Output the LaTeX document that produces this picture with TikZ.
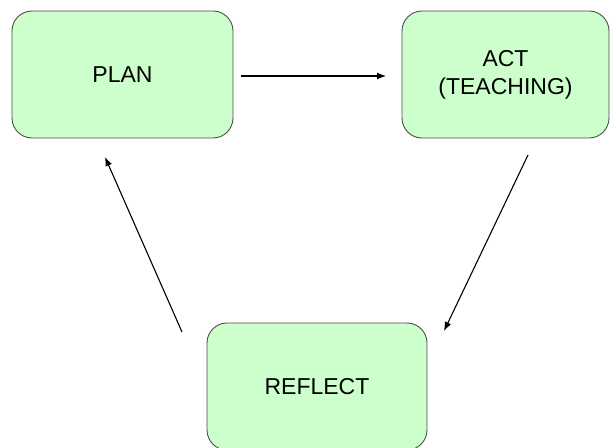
\documentclass[tikz,border=0pt]{standalone}
\usepackage{fontspec}
\setmainfont{Liberation Sans}
\usetikzlibrary{arrows.meta}

\begin{document}
\begin{tikzpicture}[x=1pt, y=-1pt]
\useasboundingbox (0,0) rectangle (610,447);
% coordinates
\coordinate (PlanOut) at (241,76);
\coordinate (ActIn) at (386,76);
\coordinate (ActOut) at (528,155);
\coordinate (ReflectIn) at (444,331);
\coordinate (ReflectOut) at (182,332);
\coordinate (PlanIn) at (105,157);

% boxes
\begin{scope}[every node/.style={draw=black!70, line width=0.9pt, fill=green!20!white, rounded corners=20pt, minimum height=127pt, align=center, font=\fontsize{23}{28}\selectfont}]
\node[minimum width=221pt] (plan) at (122.5,74.5) {PLAN};
\node[minimum width=207pt] (act) at (505.5,74.5) {ACT\\(TEACHING)};
\node[minimum width=220pt] (reflect) at (317,386.5) {REFLECT};
\end{scope}

% arrows
\begin{scope}[line width=1.1pt, -{Latex[length=9pt, width=7pt]}]
\draw (PlanOut) -- (ActIn);
\draw (ActOut) -- (ReflectIn);
\draw (ReflectOut) -- (PlanIn);
\end{scope}

\end{tikzpicture}
\end{document}
